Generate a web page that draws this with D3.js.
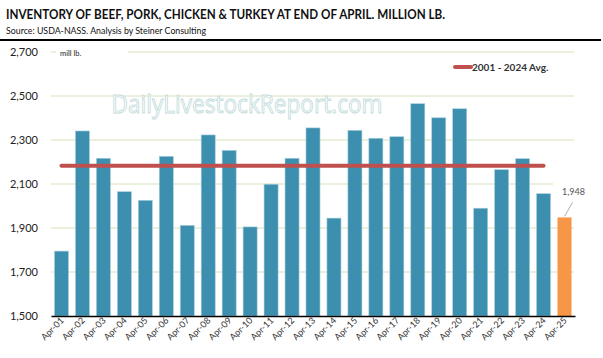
<!DOCTYPE html>
<html><head><meta charset="utf-8">
<script src="https://cdn.jsdelivr.net/npm/d3@7"></script>
<style>body{margin:0;background:#fff}svg{display:block}</style>
</head><body>
<svg id="c" width="603" height="358"></svg>
<script>
const categories = ["Apr-01","Apr-02","Apr-03","Apr-04","Apr-05","Apr-06","Apr-07","Apr-08","Apr-09","Apr-10","Apr-11","Apr-12","Apr-13","Apr-14","Apr-15","Apr-16","Apr-17","Apr-18","Apr-19","Apr-20","Apr-21","Apr-22","Apr-23","Apr-24","Apr-25"];
const inventory = [1795,2341,2217,2065,2026,2226,1912,2323,2253,1905,2099,2217,2355,1945,2344,2308,2315,2465,2401,2442,1990,2165,2215,2056,1948];
const avgValue = 2183;
const avgCategories = categories.slice(0, 24);
const yTicks = [1500,1700,1900,2100,2300,2500,2700];
const title = "INVENTORY OF BEEF, PORK, CHICKEN & TURKEY AT END OF APRIL. MILLION LB.";
const subtitle = "Source:  USDA-NASS.  Analysis by Steiner Consulting";
const legendLabel = "2001 - 2024 Avg.";
const unitLabel = "mill lb.";
const watermark = "DailyLivestockReport.com";

const svg = d3.select("#c");
const font = "Lato, 'Open Sans', sans-serif";
const x = d3.scaleBand().domain(categories).range([51, 575]).paddingInner(0.33).paddingOuter(0.165);
const y = d3.scaleLinear().domain([1500, 2700]).range([316, 52]);

// title
svg.append("text").attr("x", 6).attr("y", 18.5).attr("font-family", font).attr("font-weight", 700)
  .attr("font-size", 13.5).attr("fill", "#111").attr("textLength", 439).attr("lengthAdjust", "spacingAndGlyphs").text(title);
svg.append("text").attr("x", 6).attr("y", 33.5).attr("font-family", font)
  .attr("font-size", 9.5).attr("fill", "#111").attr("textLength", 200).attr("lengthAdjust", "spacingAndGlyphs").text(subtitle);
svg.append("line").attr("x1", 0).attr("x2", 601).attr("y1", 40).attr("y2", 40).attr("stroke", "#000").attr("stroke-width", 2);

// gridlines
svg.append("g").selectAll("line").data(yTicks.filter(d => d > 1500)).join("line")
  .attr("x1", 51).attr("x2", 574).attr("y1", d => y(d)).attr("y2", d => y(d))
  .attr("stroke", "#e3ebcf").attr("stroke-width", 1.5);

// watermark
svg.append("text").attr("x", 247).attr("y", 113).attr("text-anchor", "middle").attr("font-family", "'Open Sans', sans-serif")
  .attr("font-size", 25).attr("fill", "#fff").attr("stroke", "#c3dcdc").attr("stroke-width", 0.9)
  .attr("textLength", 271).attr("lengthAdjust", "spacingAndGlyphs").text(watermark);

// unit label with white bg
svg.append("rect").attr("x", 56).attr("y", 46).attr("width", 72).attr("height", 12).attr("fill", "#fff");
svg.append("text").attr("x", 60).attr("y", 55.5).attr("font-family", font).attr("font-size", 7.5).attr("fill", "#222").text(unitLabel);

// y axis labels
const yAxis = d3.axisLeft(y).tickValues(yTicks).tickSize(0).tickPadding(0).tickFormat(d3.format(","));
const ya = svg.append("g").attr("transform", "translate(38,0)").call(yAxis);
ya.select(".domain").remove();
ya.selectAll("text").attr("font-family", font).attr("font-size", 11).attr("fill", "#222").attr("dy", "0.35em");

// bars
svg.append("g").selectAll("rect").data(inventory).join("rect")
  .attr("x", (d, i) => x(categories[i])).attr("width", x.bandwidth())
  .attr("y", d => y(d)).attr("height", d => y(1500) - y(d))
  .attr("fill", (d, i) => i === categories.length - 1 ? "#f79646" : "#3d8fb0")
  .attr("stroke", (d, i) => i === categories.length - 1 ? "none" : "#a9d0dc").attr("stroke-width", 0.6);

// avg line
const line = d3.line().x(d => x(d) + x.bandwidth() / 2).y(() => y(avgValue));
svg.append("path").datum(avgCategories).attr("d", line).attr("fill", "none")
  .attr("stroke", "#c0504d").attr("stroke-width", 4).attr("stroke-linecap", "round");

// x axis
const xa = svg.append("g").attr("transform", "translate(0,316)").call(d3.axisBottom(x).tickSize(0).tickPadding(0));
xa.select(".domain").attr("stroke", "#000").attr("stroke-width", 1.5);
xa.selectAll("text").attr("font-family", font).attr("font-size", 9).attr("fill", "#333")
  .attr("text-anchor", "end").attr("dy", 0).attr("transform", "translate(3,5) rotate(-45)");

// legend
svg.append("line").attr("x1", 455).attr("x2", 471).attr("y1", 67).attr("y2", 67)
  .attr("stroke", "#c0504d").attr("stroke-width", 4).attr("stroke-linecap", "round");
svg.append("text").attr("x", 472).attr("y", 70.5).attr("font-family", font).attr("font-weight", 700)
  .attr("font-size", 10).attr("fill", "#333").text(legendLabel);

// data label for last bar
const last = categories.length - 1;
const lx = x(categories[last]) + x.bandwidth() / 2;
svg.append("rect").attr("x", 553).attr("y", 180).attr("width", 40).attr("height", 18).attr("fill", "#fff");
svg.append("line").attr("x1", lx).attr("y1", y(inventory[last]) - 1).attr("x2", lx + 8).attr("y2", y(inventory[last]) - 15)
  .attr("stroke", "#999").attr("stroke-width", 0.8);
svg.append("text").attr("x", 573.5).attr("y", 195).attr("text-anchor", "middle").attr("font-family", font)
  .attr("font-size", 9).attr("fill", "#555").text(d3.format(",")(inventory[last]));
</script>
</body></html>
